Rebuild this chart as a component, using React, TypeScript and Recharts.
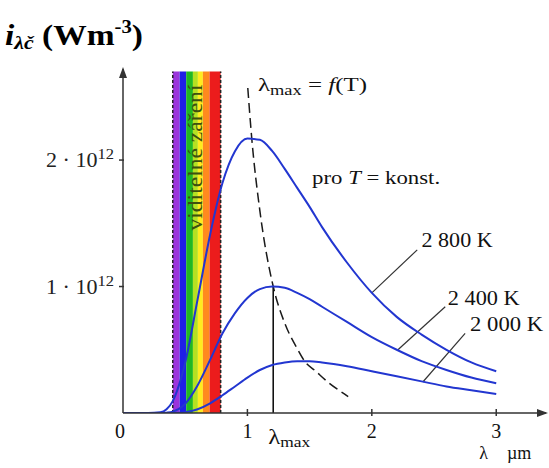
import React from 'react';
import {
  ComposedChart,
  Line,
  XAxis,
  YAxis,
  ReferenceArea,
  ReferenceLine,
  ReferenceDot,
} from 'recharts';

// wavelength in µm
const wavelengths = [0, 0.2, 0.3, 0.35, 0.4, 0.45, 0.5, 0.6, 0.7, 0.8, 0.9, 1.0, 1.1, 1.2, 1.3, 1.4, 1.5, 1.6, 1.8, 2.0, 2.2, 2.4, 2.6, 2.8, 3.0];
// spectral exitance in units of 10^12 W m^-3
const i2800 = [0, 0, 0.006, 0.03, 0.094, 0.22, 0.4, 0.9, 1.41, 1.82, 2.07, 2.17, 2.16, 2.07, 1.93, 1.78, 1.63, 1.47, 1.19, 0.95, 0.76, 0.62, 0.5, 0.4, 0.33];
const i2400 = [0, 0, 0, 0.003, 0.011, 0.032, 0.073, 0.22, 0.42, 0.63, 0.79, 0.91, 0.98, 1.0, 0.99, 0.95, 0.9, 0.84, 0.72, 0.6, 0.5, 0.41, 0.34, 0.28, 0.235];
const i2000 = [0, 0, 0, 0, 0.001, 0.002, 0.007, 0.03, 0.077, 0.14, 0.21, 0.28, 0.34, 0.38, 0.4, 0.41, 0.41, 0.4, 0.37, 0.33, 0.29, 0.25, 0.21, 0.18, 0.15];

// locus of maxima λmax = f(T)
const locusX = [1.003, 1.035, 1.1, 1.2075, 1.3, 1.4, 1.46, 1.55, 1.64, 1.72, 1.81];
const locusY = [2.57, 2.17, 1.6, 1.0, 0.71, 0.51, 0.41, 0.33, 0.25, 0.19, 0.13];

// visible band stripes (µm edges)
const visibleEdges = [0.4, 0.455, 0.508, 0.562, 0.602, 0.642, 0.696, 0.785];
const visibleColors = ['#9b34dc', '#1f1fe6', '#22b822', '#b6e022', '#ffec1e', '#ff8a1e', '#ec1c1c'];
const visibleTop = 2.7;

const LMAX = 1.2075;
const xTicks = [0, 1, LMAX, 2, 3];
const yTicks = [1, 2];
const tempLabels = ['2 800 K', '2 400 K', '2 000 K'];

const toPts = (xs: number[], ys: number[]) => xs.map((x, i) => ({ x, y: ys[i] }));
const d2800 = toPts(wavelengths, i2800);
const d2400 = toPts(wavelengths, i2400);
const d2000 = toPts(wavelengths, i2000);
const dLocus = toPts(locusX, locusY);

const FONT = '"Liberation Serif", "Times New Roman", serif';
const BLUE = '#2236d0';
const AX = '#333';

const XTick = (props: any) => {
  const { x, y, payload } = props;
  const v = payload.value;
  if (v === LMAX) {
    return (
      <text x={x - 5} y={y + 31} textAnchor="start" fontFamily={FONT} fontSize={20} fill="#111" textLength={42} lengthAdjust="spacingAndGlyphs">
        λ<tspan fontSize={14} dy={3}>max</tspan>
      </text>
    );
  }
  return (
    <g>
      {v !== 0 && <line x1={x} x2={x} y1={y - 4} y2={y + 3} stroke={AX} strokeWidth={1.5} />}
      <text x={v === 0 ? x - 3 : x} y={y + 25} textAnchor="middle" fontFamily={FONT} fontSize={20} fill="#111">
        {v}
      </text>
    </g>
  );
};

const YTick = (props: any) => {
  const { x, y, payload } = props;
  return (
    <g>
      <line x1={x - 4} x2={x + 1} y1={y} y2={y} stroke={AX} strokeWidth={1.5} />
      <text x={x - 77} y={y + 7} textAnchor="start" fontFamily={FONT} fontSize={20} fill="#222" textLength={68} lengthAdjust="spacingAndGlyphs">
        {payload.value} · 10<tspan fontSize={15} dy={-8}>12</tspan>
      </text>
    </g>
  );
};

const textShape = (content: React.ReactNode, opts: any = {}) => (p: any) => (
  <text
    x={p.cx + (opts.dx || 0)}
    y={p.cy + (opts.dy || 0)}
    fontFamily={FONT}
    fontSize={opts.fontSize || 18}
    fill={opts.fill || '#111'}
    textAnchor={opts.anchor || 'start'}
    textLength={opts.len}
    lengthAdjust={opts.len ? 'spacingAndGlyphs' : undefined}
    transform={opts.rotate ? `rotate(${opts.rotate} ${p.cx} ${p.cy})` : undefined}
  >
    {content}
  </text>
);

export default function App() {
  return (
    <div style={{ position: 'absolute', left: 0, top: 0, width: 549, height: 468, background: '#fff' }}>
      <ComposedChart width={549} height={468} margin={{ top: 69, right: 3, bottom: 25, left: 0 }}>
        <XAxis
          type="number"
          dataKey="x"
          domain={[0, 3.4]}
          ticks={xTicks}
          allowDataOverflow
          height={30}
          tickSize={0}
          tickMargin={0}
          tickLine={false}
          tick={XTick}
          axisLine={{ stroke: AX, strokeWidth: 1.5 }}
          interval={0}
        />
        <YAxis
          type="number"
          dataKey="y"
          domain={[0, 2.72]}
          ticks={yTicks}
          allowDataOverflow
          width={123}
          tickSize={0}
          tickMargin={0}
          tickLine={false}
          tick={YTick}
          axisLine={{ stroke: AX, strokeWidth: 1.5 }}
          interval={0}
        />

        {visibleColors.map((c, i) => (
          <ReferenceArea
            key={c}
            x1={visibleEdges[i]}
            x2={visibleEdges[i + 1]}
            y1={0}
            y2={visibleTop}
            fill={c}
            fillOpacity={1}
            stroke="none"
            ifOverflow="visible"
          />
        ))}
        <ReferenceLine
          segment={[{ x: visibleEdges[0], y: 0 }, { x: visibleEdges[0], y: visibleTop }]}
          stroke="#222"
          strokeWidth={1.5}
          strokeDasharray="3 2"
          ifOverflow="visible"
        />
        <ReferenceLine
          segment={[{ x: visibleEdges[visibleEdges.length - 1], y: 0 }, { x: visibleEdges[visibleEdges.length - 1], y: visibleTop }]}
          stroke="#222"
          strokeWidth={1.5}
          strokeDasharray="3 2"
          ifOverflow="visible"
        />
        <ReferenceDot
          x={0.59}
          y={2.02}
          r={0}
          ifOverflow="visible"
          shape={textShape('viditelné záření', { rotate: -90, anchor: 'middle', dy: 6, fontSize: 20, fill: '#3e4f10', len: 146 })}
        />

        {/* λmax vertical line */}
        <ReferenceLine
          segment={[{ x: LMAX, y: 0 }, { x: LMAX, y: 1.0 }]}
          stroke="#111"
          strokeWidth={1.6}
          ifOverflow="visible"
        />

        {/* leader lines */}
        <ReferenceLine segment={[{ x: 2.365, y: 1.29 }, { x: 2.0, y: 0.95 }]} stroke="#333" strokeWidth={1.2} ifOverflow="visible" />
        <ReferenceLine segment={[{ x: 2.59, y: 0.84 }, { x: 2.21, y: 0.5 }]} stroke="#333" strokeWidth={1.2} ifOverflow="visible" />
        <ReferenceLine segment={[{ x: 2.75, y: 0.63 }, { x: 2.41, y: 0.245 }]} stroke="#333" strokeWidth={1.2} ifOverflow="visible" />

        <Line data={dLocus} dataKey="y" type="monotone" stroke="#1a1a1a" strokeWidth={1.5} strokeDasharray="10 5" dot={false} isAnimationActive={false} />
        <Line data={d2000} dataKey="y" type="monotone" stroke={BLUE} strokeWidth={2} dot={false} isAnimationActive={false} />
        <Line data={d2400} dataKey="y" type="monotone" stroke={BLUE} strokeWidth={2} dot={false} isAnimationActive={false} />
        <Line data={d2800} dataKey="y" type="monotone" stroke={BLUE} strokeWidth={2} dot={false} isAnimationActive={false} />

        {/* arrowheads */}
        <ReferenceDot
          x={3.4}
          y={0}
          r={0}
          ifOverflow="visible"
          shape={(p: any) => (
            <polygon points={`${p.cx + 2},${p.cy} ${p.cx - 9},${p.cy - 4} ${p.cx - 9},${p.cy + 4}`} fill={AX} />
          )}
        />
        <ReferenceDot
          x={0}
          y={2.72}
          r={0}
          ifOverflow="visible"
          shape={(p: any) => (
            <polygon points={`${p.cx},${p.cy - 2} ${p.cx - 4},${p.cy + 9} ${p.cx + 4},${p.cy + 9}`} fill={AX} />
          )}
        />

        {/* text annotations */}
        <ReferenceDot
          x={1.085}
          y={2.59}
          r={0}
          ifOverflow="visible"
          shape={textShape(
            <>
              λ<tspan fontSize={14} dy={4}>max</tspan>
              <tspan dy={-4}> = </tspan>
              <tspan fontStyle="italic">f</tspan>
              <tspan>(T)</tspan>
            </>,
            { dy: 6, fontSize: 19, len: 109 }
          )}
        />
        <ReferenceDot
          x={1.52}
          y={1.86}
          r={0}
          ifOverflow="visible"
          shape={textShape(
            <>
              pro <tspan fontStyle="italic">T</tspan> = konst.
            </>,
            { dy: 6, fontSize: 19, len: 128 }
          )}
        />
        <ReferenceDot x={2.4} y={1.37} r={0} ifOverflow="visible" shape={textShape(tempLabels[0], { dy: 7, fontSize: 20, len: 71 })} />
        <ReferenceDot x={2.61} y={0.91} r={0} ifOverflow="visible" shape={textShape(tempLabels[1], { dy: 7, fontSize: 20, len: 72 })} />
        <ReferenceDot x={2.79} y={0.7} r={0} ifOverflow="visible" shape={textShape(tempLabels[2], { dy: 7, fontSize: 20, len: 73 })} />
        <ReferenceDot
          x={3.0}
          y={0}
          r={0}
          ifOverflow="visible"
          shape={(p: any) => (
            <text x={p.cx - 17} y={p.cy + 46} fontFamily={FONT} fontSize={18} fill="#111">
              λ<tspan dx={19}>µm</tspan>
            </text>
          )}
        />
      </ComposedChart>

      <svg width={549} height={60} style={{ position: 'absolute', left: 0, top: 0, pointerEvents: 'none' }}>
        <text x={5} y={45} fontFamily={FONT} fontWeight="bold" fontSize={29} fill="#000" textLength={138} lengthAdjust="spacingAndGlyphs">
          <tspan fontStyle="italic">i</tspan>
          <tspan fontStyle="italic" fontSize={19} dy={4}>λč</tspan>
          <tspan dy={-4}> (Wm</tspan>
          <tspan fontSize={18} dy={-12}>-3</tspan>
          <tspan dy={12}>)</tspan>
        </text>
      </svg>
    </div>
  );
}
